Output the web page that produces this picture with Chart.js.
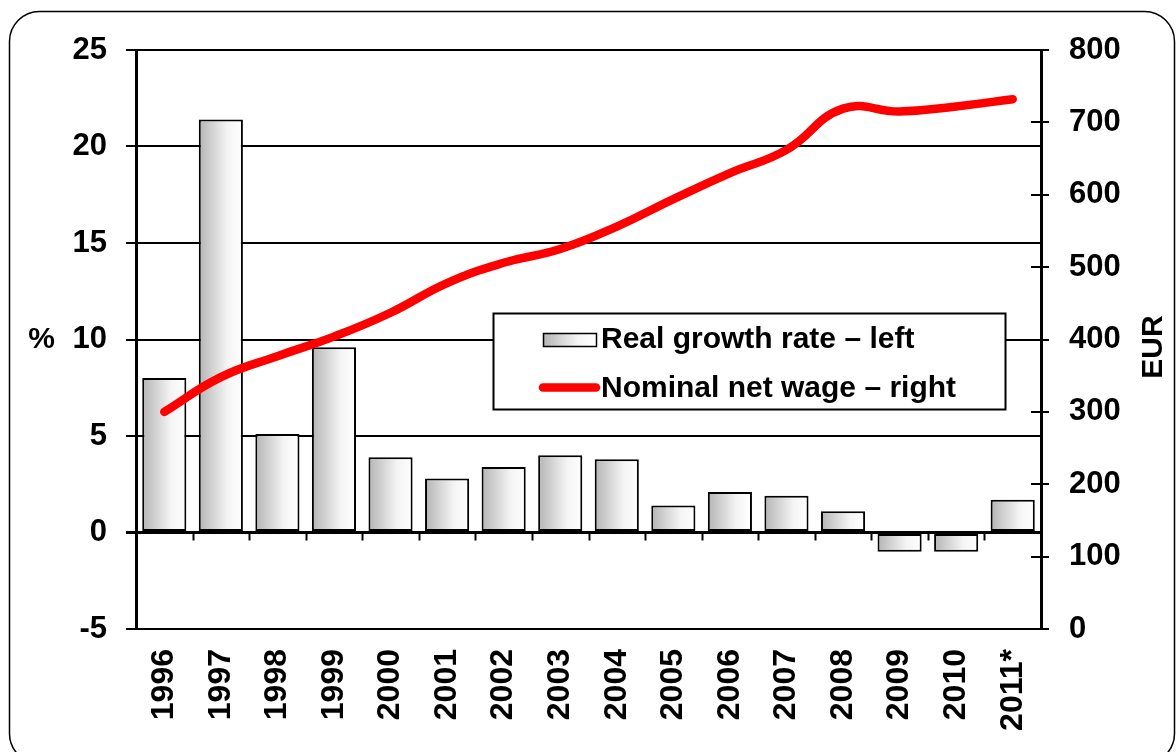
<!DOCTYPE html>
<html>
<head>
<meta charset="utf-8">
<script src="https://cdn.jsdelivr.net/npm/chart.js@4"></script>
<style>
  html, body { margin: 0; padding: 0; background: #fff; }
  #wrap { width: 1176px; height: 752px; }
</style>
</head>
<body>
<div id="wrap"><canvas id="c" width="1176" height="752"></canvas></div>
<script>
const categories = ['1996','1997','1998','1999','2000','2001','2002','2003','2004','2005','2006','2007','2008','2009','2010','2011*'];
const realGrowth = [8.0, 21.4, 5.1, 9.6, 3.9, 2.8, 3.4, 4.0, 3.8, 1.4, 2.1, 1.9, 1.1, -1.0, -1.0, 1.7];
const netWage = [300, 348, 377, 404, 437, 478, 506, 525, 556, 594, 630, 662, 719, 715, 722, 732];
const leftTicks = [-5, 0, 5, 10, 15, 20, 25];
const rightTicks = [0, 100, 200, 300, 400, 500, 600, 700, 800];
const seriesNames = ['Real growth rate \u2013 left', 'Nominal net wage \u2013 right'];
const leftTitle = '%';
const rightTitle = 'EUR';

const FONT = '"Liberation Sans", Arial, sans-serif';
const BAR_FRACTION = 0.78;

function barGradient(ctx, x0, x1) {
  const g = ctx.createLinearGradient(x0, 0, x1, 0);
  g.addColorStop(0, '#b4b4b4');
  g.addColorStop(0.65, '#f4f4f4');
  g.addColorStop(1, '#ffffff');
  return g;
}

function roundRectPath(ctx, x, y, w, h, r) {
  ctx.beginPath();
  ctx.moveTo(x + r, y);
  ctx.lineTo(x + w - r, y);
  ctx.arcTo(x + w, y, x + w, y + r, r);
  ctx.lineTo(x + w, y + h - r);
  ctx.arcTo(x + w, y + h, x + w - r, y + h, r);
  ctx.lineTo(x + r, y + h);
  ctx.arcTo(x, y + h, x, y + h - r, r);
  ctx.lineTo(x, y + r);
  ctx.arcTo(x, y, x + r, y, r);
  ctx.closePath();
}

const decor = {
  id: 'decor',
  beforeDraw(chart) {
    const ctx = chart.ctx;
    ctx.save();
    ctx.fillStyle = '#fff';
    ctx.fillRect(0, 0, chart.width, chart.height);
    ctx.strokeStyle = '#000';
    ctx.lineWidth = 1.5;
    roundRectPath(ctx, 9.5, 11.5, 1165, 752, 30);
    ctx.stroke();
    ctx.restore();
  },
  afterDatasetsDraw(chart) {
    const ctx = chart.ctx;
    const x = chart.scales.x, y = chart.scales.y, y1 = chart.scales.y1;
    const area = chart.chartArea;
    ctx.save();
    // category boundary ticks on the zero line
    const zeroY = y.getPixelForValue(0);
    const step = (x.getPixelForValue(1) - x.getPixelForValue(0));
    ctx.strokeStyle = '#000';
    ctx.lineWidth = 2;
    for (let i = 1; i < categories.length; i++) {
      const px = Math.round(x.getPixelForValue(i) - step / 2) + 0.5;
      ctx.beginPath();
      ctx.moveTo(px, zeroY);
      ctx.lineTo(px, zeroY + 8);
      ctx.stroke();
    }
    // inner part of right-axis ticks
    rightTicks.forEach(v => {
      const py = Math.round(y1.getPixelForValue(v));
      ctx.beginPath();
      ctx.moveTo(area.right - 10, py);
      ctx.lineTo(area.right, py);
      ctx.stroke();
    });

    // axis titles
    ctx.fillStyle = '#000';
    ctx.font = 'bold 30px ' + FONT;
    ctx.textAlign = 'center';
    ctx.textBaseline = 'middle';
    ctx.fillText(leftTitle, 41.5, (area.top + area.bottom) / 2);
    ctx.save();
    ctx.translate(1154, 347);
    ctx.rotate(-Math.PI / 2);
    ctx.font = 'bold 30px ' + FONT;
    ctx.fillText(rightTitle, 0, 0);
    ctx.restore();

    // legend
    ctx.fillStyle = '#fff';
    ctx.fillRect(493.5, 313.5, 512, 96);
    ctx.strokeStyle = '#000';
    ctx.lineWidth = 2;
    ctx.strokeRect(493.5, 313.5, 512, 96);
    // bar swatch
    ctx.fillStyle = barGradient(ctx, 543, 596);
    ctx.fillRect(543.5, 333.5, 53, 13);
    ctx.lineWidth = 1.5;
    ctx.strokeRect(543.5, 333.5, 53, 13);
    // line swatch
    ctx.strokeStyle = '#ff0000';
    ctx.lineWidth = 8.5;
    ctx.lineCap = 'round';
    ctx.beginPath();
    ctx.moveTo(543, 387.5);
    ctx.lineTo(596, 387.5);
    ctx.stroke();
    ctx.fillStyle = '#000';
    ctx.font = 'bold 30px ' + FONT;
    ctx.textAlign = 'left';
    ctx.textBaseline = 'middle';
    ctx.fillText(seriesNames[0], 601, 340);
    ctx.fillText(seriesNames[1], 601, 389);
    ctx.restore();
  }
};

const ctx = document.getElementById('c').getContext('2d');
new Chart(ctx, {
  data: {
    labels: categories,
    datasets: [
      {
        type: 'line',
        label: seriesNames[1],
        data: netWage,
        yAxisID: 'y1',
        borderColor: '#ff0000',
        borderWidth: 8.5,
        borderCapStyle: 'round',
        borderJoinStyle: 'round',
        tension: 0.45,
        pointRadius: 0,
        fill: false,
        order: 0
      },
      {
        type: 'bar',
        label: seriesNames[0],
        data: realGrowth,
        yAxisID: 'y',
        borderColor: '#000',
        borderWidth: 2,
        borderSkipped: false,
        categoryPercentage: 1,
        barPercentage: BAR_FRACTION,
        backgroundColor: (c) => {
          const chart = c.chart;
          const xs = chart.scales.x;
          if (!xs || !chart.chartArea || c.dataIndex === undefined) return '#ddd';
          const cx = xs.getPixelForValue(c.dataIndex);
          const w = (xs.width / categories.length) * BAR_FRACTION;
          return barGradient(chart.ctx, cx - w / 2, cx + w / 2);
        },
        order: 1
      }
    ]
  },
  options: {
    responsive: false,
    animation: false,
    events: [],
    layout: { padding: { top: 50, left: 0, right: 0, bottom: 0 } },
    plugins: { legend: { display: false }, tooltip: { enabled: false } },
    scales: {
      x: {
        type: 'category',
        grid: { display: false, drawTicks: false },
        border: { display: false },
        ticks: {
          autoSkip: false,
          minRotation: 90,
          maxRotation: 90,
          padding: 20,
          color: '#000',
          font: { family: FONT, size: 32, weight: 'bold' }
        },
        afterFit: (s) => { s.height = 123; }
      },
      y: {
        position: 'left',
        min: -5,
        max: 25,
        afterBuildTicks: (s) => { s.ticks = leftTicks.map(v => ({ value: v })); },
        grid: {
          color: '#000',
          lineWidth: (c) => (c.tick && c.tick.value === 0 ? 3 : 2),
          tickLength: 10,
          drawTicks: true
        },
        border: { display: true, color: '#000', width: 3 },
        ticks: {
          padding: 19,
          color: '#000',
          font: { family: FONT, size: 31, weight: 'bold' }
        },
        afterFit: (s) => { s.width = 136; }
      },
      y1: {
        position: 'right',
        min: 0,
        max: 800,
        afterBuildTicks: (s) => { s.ticks = rightTicks.map(v => ({ value: v })); },
        grid: {
          drawOnChartArea: false,
          color: '#000',
          lineWidth: 2,
          tickLength: 8,
          drawTicks: true
        },
        border: { display: true, color: '#000', width: 3 },
        ticks: {
          padding: 20,
          color: '#000',
          font: { family: FONT, size: 31, weight: 'bold' }
        },
        afterFit: (s) => { s.width = 135; }
      }
    }
  },
  plugins: [decor]
});
</script>
</body>
</html>
